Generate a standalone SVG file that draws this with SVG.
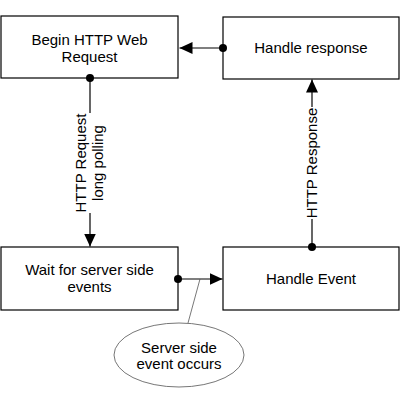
<svg xmlns="http://www.w3.org/2000/svg" width="401" height="406" viewBox="0 0 401 406">
<defs>
<style>
.box{fill:#fff;stroke:#000;stroke-width:1.2}
.t{font-family:"Liberation Sans",Arial,sans-serif;font-size:15px;fill:#000;text-anchor:middle}
.ln{stroke:#000;stroke-width:1.2;fill:none}
.dot{fill:#000}
.lbl{fill:#fff}
</style>
<marker id="ah" markerWidth="14" markerHeight="12" refX="13" refY="6" orient="auto" markerUnits="userSpaceOnUse">
<path d="M0,0 L13,6 L0,12 Z" fill="#000"/>
</marker>
</defs>
<rect width="401" height="406" fill="#fff"/>
<g id="begin">
<rect class="box" x="1" y="16" width="177" height="62"/>
<text class="t" x="89.5" y="45">Begin HTTP Web</text>
<text class="t" x="89.5" y="62">Request</text>
</g>
<g id="handle-response">
<rect class="box" x="223" y="17" width="176" height="62"/>
<text class="t" x="311" y="53">Handle response</text>
</g>
<g id="wait">
<rect class="box" x="1" y="247" width="177" height="63"/>
<text class="t" x="89.5" y="275">Wait for server side</text>
<text class="t" x="89.5" y="292">events</text>
</g>
<g id="handle-event">
<rect class="box" x="223" y="247" width="176" height="63"/>
<text class="t" x="311" y="284">Handle Event</text>
</g>
<g id="server-event">
<ellipse cx="179" cy="355" rx="65" ry="32" fill="#fff" stroke="#777" stroke-width="1"/>
<text class="t" x="179" y="353">Server side</text>
<text class="t" x="179" y="369">event occurs</text>
</g>
<g id="connectors">
<line class="ln" x1="223" y1="48" x2="179.5" y2="48" marker-end="url(#ah)"/>
<circle class="dot" cx="223" cy="48" r="4"/>
<line class="ln" x1="90" y1="78" x2="90" y2="246.5" marker-end="url(#ah)"/>
<circle class="dot" cx="90" cy="78" r="4"/>
<rect class="lbl" x="73" y="113" width="34" height="100"/>
<text class="t" transform="translate(86,163) rotate(-90)">HTTP Request</text>
<text class="t" transform="translate(103,163) rotate(-90)">long polling</text>
<line class="ln" x1="312" y1="247" x2="312" y2="79.5" marker-end="url(#ah)"/>
<circle class="dot" cx="312" cy="247" r="4"/>
<rect class="lbl" x="303" y="107" width="15" height="112"/>
<text class="t" transform="translate(317,163) rotate(-90)">HTTP Response</text>
<line class="ln" x1="178" y1="279" x2="222.5" y2="279" marker-end="url(#ah)"/>
<circle class="dot" cx="178" cy="279" r="4"/>
<line x1="188" y1="323" x2="200" y2="279" stroke="#555" stroke-width="0.8"/>
</g>
</svg>
